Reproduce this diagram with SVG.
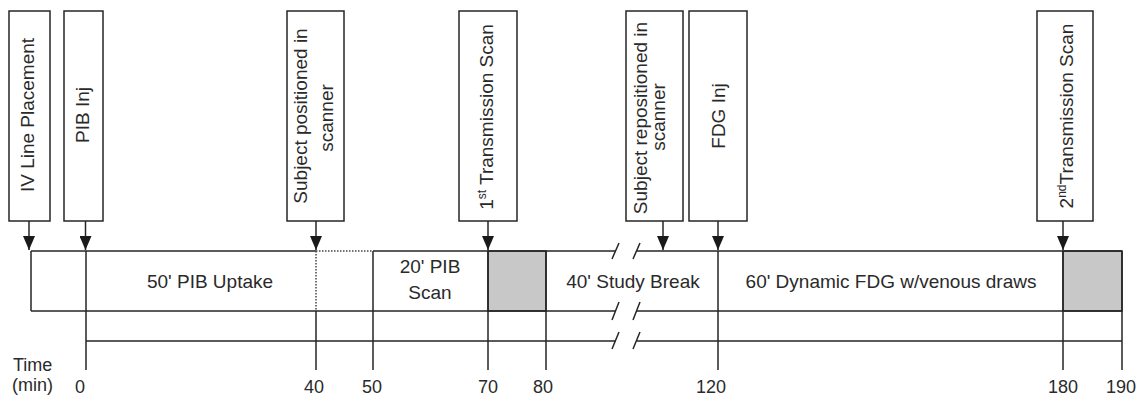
<svg xmlns="http://www.w3.org/2000/svg" width="1146" height="400" viewBox="0 0 1146 400">
<style>
  .box { fill: #ffffff; stroke: #262626; stroke-width: 1.5; }
  .ln { stroke: #262626; stroke-width: 1.5; fill: none; }
  .dot { stroke: #444; stroke-width: 1.5; stroke-dasharray: 1.5 1.5; fill: none; }
  .grey { fill: #c8c8c8; stroke: #262626; stroke-width: 1.5; }
  .t { font-family: "Liberation Sans", Arial, sans-serif; font-size: 19px; fill: #2a2a2a; }
  .c { text-anchor: middle; }
  .tm { font-family: "Liberation Sans", Arial, sans-serif; font-size: 18px; fill: #2a2a2a; }
  .sup { font-size: 12px; }
</style>
<defs>
  <marker id="ah" viewBox="0 0 14 12" refX="14" refY="6" markerWidth="14" markerHeight="12" markerUnits="userSpaceOnUse" orient="auto">
    <path d="M0,0 L14,6 L0,12 Z" fill="#1a1a1a"/>
  </marker>
</defs>
<rect width="1146" height="400" fill="#ffffff"/>

<!-- Timeline bar -->
<g id="timeline">
  <rect class="grey" x="488" y="251" width="58" height="60"/>
  <rect class="grey" x="1063" y="251" width="59" height="60"/>
  <!-- top edge -->
  <path class="ln" d="M31,251 H316 M373,251 H615.5 M636.5,251 H1122"/>
  <path class="dot" d="M316,251 H373"/>
  <!-- bottom edge -->
  <path class="ln" d="M31,311 H615.5 M636.5,311 H1122"/>
  <!-- lower line -->
  <path class="ln" d="M86,341 H615.5 M636.5,341 H1122"/>
  <!-- ends -->
  <path class="ln" d="M31,251 V311 M1122,251 V370"/>
  <!-- ticks -->
  <path class="ln" d="M86,251 V370 M316,311 V370 M373,251 V370 M488,251 V370 M546,251 V370 M718,251 V370 M1063,251 V370"/>
  <path class="dot" d="M316,251 V311"/>
  <!-- break marks -->
  <path class="ln" d="M612,259 L619,243 M633,259 L640,243 M612,320 L619,302 M633,320 L640,302 M612,349 L619,332 M633,349 L640,332"/>
</g>

<!-- Phase labels -->
<g id="phases">
  <text class="t c" x="210" y="288">50' PIB Uptake</text>
  <text class="t c" x="430" y="273">20' PIB</text>
  <text class="t c" x="430" y="299">Scan</text>
  <text class="t c" x="633" y="288">40' Study Break</text>
  <text class="t c" x="891" y="288">60' Dynamic FDG w/venous draws</text>
</g>

<!-- Time axis labels -->
<g id="axis">
  <text class="tm" x="13" y="371">Time</text>
  <text class="tm" x="12" y="391">(min)</text>
  <text class="tm c" x="80" y="393">0</text>
  <text class="tm c" x="314" y="393">40</text>
  <text class="tm c" x="372" y="393">50</text>
  <text class="tm c" x="488" y="393">70</text>
  <text class="tm c" x="543" y="393">80</text>
  <text class="tm c" x="711" y="393">120</text>
  <text class="tm c" x="1063" y="393">180</text>
  <text class="tm c" x="1121" y="393">190</text>
</g>

<!-- Event nodes -->
<g id="iv-line">
  <rect class="box" x="9" y="11" width="41" height="210"/>
  <text class="t c" transform="translate(34,115) rotate(-90)">IV Line Placement</text>
</g>
<g id="pib-inj">
  <rect class="box" x="64" y="11" width="39" height="210"/>
  <text class="t c" transform="translate(89,115) rotate(-90)">PIB Inj</text>
</g>
<g id="subject-positioned">
  <rect class="box" x="287" y="11" width="57" height="210"/>
  <text class="t c" transform="translate(307,116) rotate(-90)">Subject positioned in</text>
  <text class="t c" transform="translate(333,118) rotate(-90)">scanner</text>
</g>
<g id="transmission-1">
  <rect class="box" x="459" y="11" width="58" height="210"/>
  <text class="t c" transform="translate(493,117) rotate(-90)">1<tspan class="sup" dy="-7">st</tspan><tspan dy="7"> Transmission Scan</tspan></text>
</g>
<g id="subject-repositioned">
  <rect class="box" x="626" y="11" width="57" height="210"/>
  <text class="t c" transform="translate(647,118) rotate(-90)">Subject repositioned in</text>
  <text class="t c" transform="translate(665,117) rotate(-90)">scanner</text>
</g>
<g id="fdg-inj">
  <rect class="box" x="689" y="11" width="58" height="210"/>
  <text class="t c" transform="translate(725,116) rotate(-90)">FDG Inj</text>
</g>
<g id="transmission-2">
  <rect class="box" x="1037" y="11" width="56" height="210"/>
  <text class="t c" transform="translate(1073,116) rotate(-90)">2<tspan class="sup" dy="-7">nd</tspan><tspan dy="7">Transmission Scan</tspan></text>
</g>

<!-- Connectors -->
<g id="connectors">
  <path class="ln" d="M29,221 V250" marker-end="url(#ah)"/>
  <path class="ln" d="M85.5,221 V250" marker-end="url(#ah)"/>
  <path class="ln" d="M316,221 V250" marker-end="url(#ah)"/>
  <path class="ln" d="M488,221 V250" marker-end="url(#ah)"/>
  <path class="ln" d="M663,221 V250" marker-end="url(#ah)"/>
  <path class="ln" d="M718,221 V250" marker-end="url(#ah)"/>
  <path class="ln" d="M1063,221 V250" marker-end="url(#ah)"/>
</g>
</svg>
